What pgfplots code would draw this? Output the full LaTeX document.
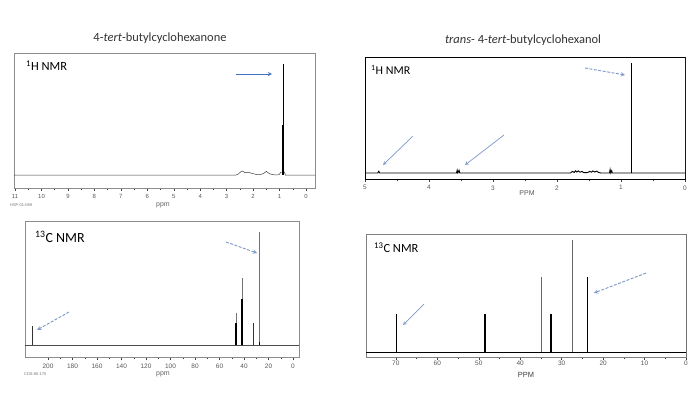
\documentclass[border=0pt]{standalone}
\usepackage{pgfplots}
\pgfplotsset{compat=1.18}
\usepackage{fontspec}
\setmainfont{Carlito}
\newfontfamily\tickfont{Liberation Sans}
\definecolor{arrblue}{RGB}{68,114,196}
\definecolor{arrlight}{RGB}{125,152,200}
\pgfplotsset{nmr/.style={scale only axis, anchor=south west, x dir=reverse, ymin=0, ytick=\empty,
  tick align=outside, xtick pos=left, major tick length=3bp, minor tick length=2bp,
  tick style={black!75, line width=0.5pt}, minor x tick num=1,
  xticklabel style={font=\tickfont\fontsize{6.5}{7}\selectfont, text=black!65},
  /pgf/number format/assume math mode=true,
  axis line style={black!45, line width=0.7pt},
  unbounded coords=jump}}
\begin{document}
\begin{tikzpicture}[x=1bp,y=-1bp]
\path[use as bounding box, fill=white] (0,0) rectangle (696,392);

% ---------- Panel 1: 1H NMR ketone ----------
\begin{axis}[nmr, at={(14bp,-188bp)}, width=301bp, height=135bp, xmin=-0.34, xmax=11.04, ymax=135,
  xtick={0,...,11}, xticklabel style={font=\tickfont\fontsize{6}{6}\selectfont}]
\addplot[black!75, line width=0.5pt] coordinates {(11.04,13)(2.65,13)(2.56,14)(2.47,16.2)(2.4,17)(2.34,15.8)(2.28,15.2)(2.2,15.8)(2.13,15.4)(2.05,14.6)(1.95,14)(1.85,13.4)(1.75,13.3)(1.66,14)(1.58,15)(1.5,16.6)(1.44,15.4)(1.37,14.2)(1.28,13.5)(1.15,13.1)(1.02,13.3)(0.96,15.5)(0.92,16)(0.82,16)(0.78,13)(0.5,13)(-0.34,13)};
\addplot[black, line width=0.6pt] coordinates {(0.87,13)(0.87,124)};
\addplot[black, line width=1.3pt] coordinates {(0.87,13)(0.87,63)};
\end{axis}

% ---------- Panel 2: 1H NMR alcohol ----------
\begin{axis}[nmr, at={(365bp,-179bp)}, width=320bp, height=122bp, xmin=0, xmax=5, ymax=122,
  xtick={0,...,5}, axis line style={black, line width=0.8pt}]
\addplot[black, line width=0.9pt] coordinates {(5,6)(4.8,6)(4.785,7.8)(4.77,6)(3.57,6)(3.56,8.8)(3.55,6)(3.53,8.8)(3.52,6)(1.79,6)(1.76,7.6)(1.73,6.6)(1.71,8.2)(1.69,7)(1.67,8.2)(1.64,6.8)(1.61,7.6)(1.58,6.3)(1.52,6.5)(1.49,7.6)(1.46,6.8)(1.44,8)(1.41,7)(1.38,7.9)(1.35,6.5)(1.31,6)(1.18,6)(1.17,9.5)(1.16,6)(1.145,8.3)(1.135,6)(0.86,6)(0.5,6)(0,6)};
\addplot[black, line width=0.8pt] coordinates {(0.84,6)(0.84,116)};
\draw[black!25, line width=1pt] (rel axis cs:1,0) -- (rel axis cs:1,1);
\end{axis}

% ---------- Panel 3: 13C NMR ketone ----------
\begin{axis}[nmr, at={(25bp,-357bp)}, width=274bp, height=136bp, xmin=-4.9, xmax=218.8, ymax=136,
  xtick={0,20,...,200}]
\addplot[black!70, line width=0.6pt] coordinates {(218.8,12)(-4.9,12)};
\addplot[black!80, line width=0.8pt] coordinates {(212.8,12)(212.8,31)(212.8,nan)(32.6,12)(32.6,34)};
\addplot[black!55, line width=0.5pt] coordinates {(46.5,12)(46.5,44)(46.5,nan)(41.6,12)(41.6,79)(41.6,nan)(27.6,12)(27.6,125)};
\addplot[black, line width=1.2pt] coordinates {(46.5,12)(46.5,34)(46.5,nan)(41.6,12)(41.6,58)(41.6,nan)(27.6,12)(27.6,15)};
\end{axis}

% ---------- Panel 4: 13C NMR alcohol ----------
\begin{axis}[nmr, at={(366bp,-357bp)}, width=320bp, height=123bp, xmin=0, xmax=77.2, ymax=123,
  xtick={0,10,...,70}, axis line style={black!50, line width=0.8pt},
  xticklabel style={font=\tickfont\fontsize{6.5}{6.5}\selectfont, inner sep=1pt}]
\addplot[black, line width=1pt] coordinates {(77.2,5)(0,5)};
\addplot[black, line width=1.3pt] coordinates {(69.8,5)(69.8,43)(69.8,nan)(48.5,5)(48.5,43)(48.5,nan)(32.6,5)(32.6,43)(32.6,nan)(23.7,5)(23.7,80)};
\addplot[black!60, line width=0.7pt] coordinates {(35.0,5)(35.0,80)(35.0,nan)(27.5,5)(27.5,117)};
\draw[black, line width=1pt] (rel axis cs:1,0) -- (rel axis cs:1,1);
\end{axis}

% ---------- Titles and labels ----------
\node[text=black!80, font=\fontsize{12.5}{14}\selectfont] at (160,38) {4-\textit{tert}-butylcyclohexanone};
\node[text=black!80, font=\fontsize{12.5}{14}\selectfont] at (523,40) {\textit{trans}- 4-\textit{tert}-butylcyclohexanol};

\node[anchor=west, inner sep=0, font=\fontsize{12.5}{14}\selectfont] at (26,66) {\textsuperscript{1}H NMR};
\node[anchor=west, inner sep=0, font=\fontsize{12}{14}\selectfont] at (371,70) {\textsuperscript{1}H NMR};
\node[anchor=west, inner sep=0, font=\fontsize{14}{16}\selectfont] at (35,237) {\textsuperscript{13}C NMR};
\node[anchor=west, inner sep=0, font=\fontsize{12.5}{14}\selectfont] at (374,248) {\textsuperscript{13}C NMR};

\node[text=black!60, font=\tickfont\fontsize{7}{7}\selectfont] at (163,205) {ppm};
\node[text=black!60, font=\tickfont\fontsize{7}{7}\selectfont] at (163,374) {ppm};
\node[text=black!65, font=\tickfont\fontsize{7}{7}\selectfont] at (527,193) {PPM};
\node[text=black!75, inner sep=0, font=\tickfont\fontsize{7.5}{7.5}\selectfont] at (526,374.5) {PPM};
\node[anchor=west, inner sep=0, text=black!55, font=\tickfont\fontsize{4}{4}\selectfont] at (10,205) {HSP-01-089};
\node[anchor=west, inner sep=0, text=black!55, font=\tickfont\fontsize{4}{4}\selectfont] at (24,374) {CDS-80-170};

% ---------- Arrows ----------
\draw[arrblue, line width=0.9pt, -stealth] (236,74) -- (272,74);
\draw[arrlight, line width=0.9pt, dashed, dash pattern=on 3pt off 1.5pt, -stealth] (585,68) -- (625,75);
\draw[arrlight, line width=0.7pt, -stealth] (413,136) -- (383,165);
\draw[arrlight, line width=0.7pt, -stealth] (504,135) -- (465,165);
\draw[arrlight, line width=0.9pt, dashed, dash pattern=on 3pt off 1.5pt, -stealth] (226,242) -- (257,253);
\draw[arrlight, line width=0.9pt, dashed, dash pattern=on 3pt off 1.5pt, -stealth] (69,312) -- (37,330);
\draw[arrlight, line width=0.7pt, -stealth] (424,304) -- (403,325);
\draw[arrlight, line width=0.9pt, dashed, dash pattern=on 3pt off 1.5pt, -stealth] (646,273) -- (594,293);
\end{tikzpicture}
\end{document}
